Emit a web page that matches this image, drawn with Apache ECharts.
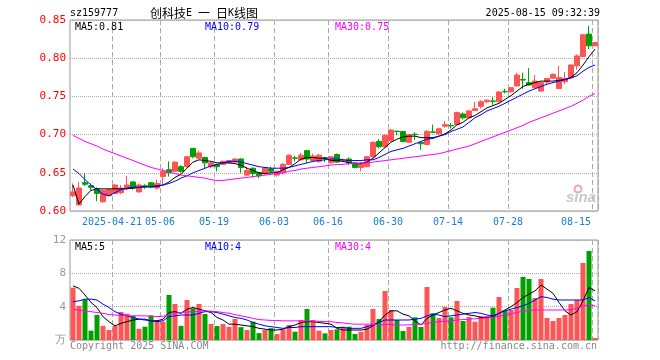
<!DOCTYPE html>
<html><head><meta charset="utf-8">
<script src="https://cdn.jsdelivr.net/npm/echarts@6/dist/echarts.min.js"></script>
<style>html,body{margin:0;padding:0;background:#fff}#c{width:660px;height:360px}</style>
</head><body><div id="c"></div>
<script>
const dates = ['2025-04-10','2025-04-11','2025-04-14','2025-04-15','2025-04-16','2025-04-17','2025-04-18','2025-04-21','2025-04-22','2025-04-23',
'2025-04-24','2025-04-25','2025-04-28','2025-04-29','2025-04-30','2025-05-06','2025-05-07','2025-05-08','2025-05-09','2025-05-12',
'2025-05-13','2025-05-14','2025-05-15','2025-05-16','2025-05-19','2025-05-20','2025-05-21','2025-05-22','2025-05-23','2025-05-26',
'2025-05-27','2025-05-28','2025-05-29','2025-05-30','2025-06-03','2025-06-04','2025-06-05','2025-06-06','2025-06-09','2025-06-10',
'2025-06-11','2025-06-12','2025-06-13','2025-06-16','2025-06-17','2025-06-18','2025-06-19','2025-06-20','2025-06-23','2025-06-24',
'2025-06-25','2025-06-26','2025-06-27','2025-06-30','2025-07-01','2025-07-02','2025-07-03','2025-07-04','2025-07-07','2025-07-08',
'2025-07-09','2025-07-10','2025-07-11','2025-07-14','2025-07-15','2025-07-16','2025-07-17','2025-07-18','2025-07-21','2025-07-22',
'2025-07-23','2025-07-24','2025-07-25','2025-07-28','2025-07-29','2025-07-30','2025-07-31','2025-08-01','2025-08-04','2025-08-05',
'2025-08-06','2025-08-07','2025-08-08','2025-08-11','2025-08-12','2025-08-13','2025-08-14','2025-08-15'];

const opens = [0.620,0.608,0.637,0.633,0.629,0.612,0.620,0.623,0.624,0.630,
0.638,0.625,0.633,0.637,0.630,0.645,0.654,0.652,0.658,0.658,
0.682,0.669,0.670,0.658,0.661,0.661,0.663,0.664,0.668,0.647,
0.656,0.650,0.649,0.655,0.647,0.650,0.661,0.6695,0.667,0.679,
0.666,0.665,0.670,0.663,0.674,0.666,0.668,0.663,0.657,0.658,
0.671,0.691,0.684,0.692,0.7045,0.704,0.690,0.7005,0.690,0.687,
0.7035,0.701,0.711,0.712,0.713,0.727,0.722,0.7316,0.737,0.743,
0.744,0.743,0.7565,0.756,0.7636,0.772,0.768,0.7614,0.757,0.7688,
0.7737,0.7605,0.7693,0.7746,0.790,0.8022,0.8316,0.8162];
const closes = [0.625,0.630,0.635,0.631,0.623,0.627,0.628,0.634,0.630,0.634,
0.630,0.634,0.631,0.631,0.636,0.652,0.650,0.664,0.652,0.671,
0.671,0.676,0.663,0.663,0.658,0.665,0.666,0.668,0.657,0.653,
0.649,0.646,0.656,0.652,0.652,0.661,0.673,0.669,0.673,0.668,
0.672,0.673,0.669,0.671,0.664,0.667,0.663,0.657,0.661,0.671,
0.690,0.684,0.699,0.706,0.704,0.691,0.700,0.700,0.688,0.704,
0.703,0.7075,0.713,0.7115,0.729,0.722,0.731,0.7338,0.743,0.745,
0.7435,0.7557,0.756,0.7614,0.778,0.7714,0.765,0.770,0.768,0.7733,
0.7789,0.7746,0.7737,0.7912,0.803,0.8307,0.8162,0.8206];
const lows = [0.618,0.607,0.633,0.627,0.613,0.611,0.619,0.622,0.622,0.627,
0.628,0.624,0.629,0.630,0.628,0.635,0.645,0.651,0.650,0.657,
0.669,0.668,0.655,0.656,0.652,0.660,0.662,0.663,0.650,0.646,
0.644,0.643,0.647,0.649,0.645,0.648,0.660,0.665,0.666,0.663,
0.664,0.663,0.664,0.662,0.663,0.664,0.660,0.656,0.652,0.657,
0.670,0.682,0.683,0.691,0.699,0.690,0.689,0.693,0.680,0.686,
0.702,0.700,0.709,0.708,0.712,0.720,0.721,0.731,0.734,0.741,
0.739,0.742,0.754,0.755,0.763,0.760,0.764,0.761,0.756,0.765,
0.773,0.760,0.766,0.774,0.785,0.802,0.8118,0.816];
const highs = [0.636,0.638,0.649,0.636,0.631,0.628,0.629,0.635,0.634,0.646,
0.639,0.636,0.635,0.638,0.641,0.656,0.665,0.665,0.660,0.672,
0.682,0.679,0.671,0.664,0.661,0.666,0.667,0.669,0.669,0.658,
0.657,0.651,0.657,0.658,0.653,0.663,0.674,0.672,0.676,0.680,
0.675,0.675,0.671,0.672,0.675,0.669,0.670,0.664,0.664,0.672,
0.691,0.694,0.700,0.707,0.705,0.705,0.701,0.703,0.691,0.706,
0.713,0.709,0.718,0.715,0.730,0.729,0.732,0.743,0.745,0.746,
0.749,0.757,0.760,0.762,0.781,0.781,0.787,0.778,0.769,0.774,
0.780,0.790,0.782,0.792,0.805,0.831,0.8425,0.821];

const ma5 = [0.634,0.609,0.619,0.627,0.629,0.629,0.629,0.629,0.629,0.629,
0.630,0.631,0.632,0.632,0.632,0.634,0.638,0.644,0.648,0.656,
0.664,0.667,0.666,0.665,0.663,0.663,0.663,0.662,0.660,0.656,
0.653,0.650,0.649,0.650,0.650,0.654,0.657,0.662,0.668,0.670,
0.670,0.669,0.669,0.666,0.666,0.665,0.663,0.662,0.662,0.664,
0.669,0.676,0.683,0.690,0.694,0.697,0.698,0.698,0.696,0.696,
0.696,0.698,0.701,0.706,0.713,0.716,0.722,0.725,0.730,0.735,
0.738,0.741,0.746,0.751,0.757,0.763,0.766,0.768,0.770,0.770,
0.770,0.771,0.772,0.775,0.781,0.791,0.802,0.812];
const ma10 = [0.655,0.649,0.641,0.634,0.628,0.622,0.620,0.624,0.628,0.630,
0.631,0.631,0.632,0.632,0.633,0.634,0.636,0.639,0.643,0.646,
0.650,0.653,0.656,0.659,0.661,0.663,0.665,0.665,0.664,0.662,
0.660,0.658,0.657,0.656,0.656,0.656,0.657,0.659,0.661,0.663,
0.665,0.666,0.667,0.668,0.668,0.667,0.666,0.666,0.666,0.667,
0.667,0.670,0.674,0.678,0.680,0.682,0.685,0.688,0.691,0.694,
0.695,0.698,0.700,0.704,0.707,0.710,0.716,0.722,0.726,0.731,
0.734,0.737,0.741,0.745,0.749,0.753,0.757,0.760,0.763,0.766,
0.768,0.770,0.772,0.774,0.777,0.783,0.788,0.791];
const ma30 = [0.699,0.695,0.691,0.688,0.685,0.681,0.678,0.675,0.672,0.669,
0.666,0.663,0.660,0.657,0.655,0.653,0.651,0.649,0.647,0.646,
0.645,0.644,0.643,0.641,0.640,0.640,0.641,0.642,0.643,0.644,
0.645,0.646,0.647,0.648,0.649,0.650,0.652,0.653,0.655,0.656,
0.657,0.658,0.659,0.660,0.661,0.661,0.662,0.662,0.663,0.663,
0.664,0.665,0.666,0.667,0.668,0.669,0.670,0.671,0.672,0.673,
0.674,0.675,0.677,0.679,0.681,0.683,0.685,0.688,0.691,0.694,
0.697,0.700,0.703,0.706,0.709,0.712,0.716,0.719,0.722,0.725,
0.728,0.731,0.734,0.737,0.741,0.745,0.750,0.754];

const volumes = [6.28,4.1,4.88,1.12,3.02,1.7,1.2,1.7,3.36,3.16,
2.9,1.34,1.6,2.96,2.4,2.2,5.4,4.32,1.7,4.8,
3.8,4.32,3.12,1.92,1.68,1.92,1.58,2.52,1.54,1.2,
2.2,0.82,1.2,1.42,0.72,1.26,1.8,1.0,2.4,3.72,
2.4,1.12,0.8,1.2,1.28,1.6,1.6,0.72,1.0,1.8,
3.72,2.52,5.88,3.6,2.4,1.08,1.56,2.72,1.56,6.36,
3.2,2.64,3.96,2.72,4.68,2.28,2.76,2.2,2.88,2.88,
3.88,5.16,3.56,3.6,6.24,7.56,7.32,5.04,7.32,2.64,
2.28,2.64,3.0,4.32,4.8,9.24,10.68,0.24];
const volMa5 = [6.5,6.2,5.4,4.5,3.9,2.8,2.2,1.7,2.0,2.2,
2.4,2.5,2.5,2.3,2.3,2.5,3.3,3.4,3.2,3.7,
3.9,3.7,3.5,3.3,2.7,2.4,1.9,1.9,1.8,1.7,
1.6,1.4,1.3,1.2,1.2,1.3,1.6,1.8,2.1,2.2,
2.2,2.1,2.0,1.9,1.4,1.2,1.2,1.2,1.2,1.3,
1.7,2.2,3.0,3.5,3.5,3.1,2.9,2.3,1.8,2.6,
3.0,3.3,3.6,3.8,3.5,3.2,3.0,2.9,2.7,2.7,
2.8,3.2,3.6,4.0,4.5,5.1,5.5,5.9,6.6,6.1,
5.6,4.5,3.5,3.0,3.4,4.7,6.3,5.9];
const volMa10 = [4.6,4.7,4.9,4.9,4.8,4.3,3.9,3.4,3.1,2.9,
2.7,2.5,2.4,2.3,2.2,2.3,2.8,2.9,3.0,3.0,
3.0,3.2,3.4,3.4,3.3,3.1,2.9,2.7,2.6,2.4,
2.1,1.9,1.7,1.6,1.5,1.4,1.5,1.5,1.6,1.6,
1.6,1.6,1.6,1.6,1.5,1.5,1.4,1.4,1.4,1.6,
1.8,2.1,2.4,2.4,2.4,2.4,2.4,2.5,2.6,2.9,
3.1,3.0,2.8,2.9,3.0,3.1,3.2,3.3,3.2,3.0,
2.9,3.2,3.5,3.7,3.9,4.1,4.4,4.8,5.2,5.1,
4.9,4.8,4.8,4.8,4.8,4.8,5.1,4.7];
const volMa30 = [3.7,3.6,3.5,3.4,3.3,3.2,3.05,3.0,2.95,2.9,
2.9,2.9,2.9,2.85,2.8,2.85,3.0,3.2,3.3,3.35,
3.4,3.45,3.5,3.45,3.4,3.3,3.2,3.05,2.9,2.75,
2.6,2.45,2.4,2.35,2.35,2.3,2.3,2.3,2.3,2.3,
2.25,2.25,2.2,2.2,2.1,2.05,1.95,1.9,1.9,1.9,
1.9,1.85,1.85,1.85,1.8,1.8,1.82,1.85,1.9,2.0,
2.1,2.2,2.25,2.3,2.4,2.45,2.5,2.55,2.6,2.65,
2.7,2.85,3.0,3.15,3.3,3.45,3.55,3.6,3.6,3.6,
3.6,3.6,3.6,3.65,3.8,4.1,4.2,4.1];

const labelDates = ['2025-04-21','2025-05-06','2025-05-19','2025-06-03','2025-06-16','2025-06-30','2025-07-14','2025-07-28','2025-08-15'];
const priceTicks = {min: 0.60, max: 0.85, step: 0.05};
const volTicks = {min: 0, max: 12, step: 4};

const RED = '#ff5454', GREEN = '#00a000';
const MONO = '"DejaVu Sans Mono", monospace';
const CJK = '"Noto Sans CJK SC", sans-serif';
const labelSet = new Set(labelDates.map(d => dates.indexOf(d)));
const isLabel = (i) => labelSet.has(i);

const candles = dates.map((d, i) => [opens[i], closes[i], lows[i], highs[i]]);
const volData = dates.map((d, i) => ({value: volumes[i], itemStyle: {color: closes[i] >= opens[i] ? RED : GREEN}}));

const chart = echarts.init(document.getElementById('c'), null, {renderer: 'canvas'});
const splitX = {show: true, interval: (i) => isLabel(i), lineStyle: {color: '#aaaaaa', type: [5, 3], width: 1}};
const line = (name, data, color, xi) => ({
  name, type: 'line', data, xAxisIndex: xi, yAxisIndex: xi, symbol: 'none', showSymbol: false,
  lineStyle: {color, width: 1}, silent: true, z: 3
});
const lastIdx = dates.length - 1;

chart.setOption({
  animation: false,
  backgroundColor: '#fff',
  grid: [
    {left: 70, top: 20, width: 528, height: 191, show: true, borderColor: '#999', borderWidth: 1, backgroundColor: 'transparent'},
    {left: 70, top: 240, width: 528, height: 100, show: true, borderColor: '#999', borderWidth: 1, backgroundColor: 'transparent'}
  ],
  xAxis: [
    {type: 'category', gridIndex: 0, data: dates, boundaryGap: true,
     axisLine: {show: false}, axisTick: {show: false},
     axisLabel: {interval: (i) => isLabel(i), color: '#1c7cd6', fontFamily: MONO, fontSize: 10, margin: 6,
       padding: [0, 6, 0, 0],
       formatter: (v, i) => {
         const idx = dates.indexOf(v);
         if (idx === 7) return v;
         if (idx === lastIdx) return '{last|' + v.slice(5) + '}';
         return v.slice(5);
       },
       rich: {last: {padding: [0, 32, 0, 0], color: '#1c7cd6', fontFamily: MONO, fontSize: 10}}},
     splitLine: splitX},
    {type: 'category', gridIndex: 1, data: dates, boundaryGap: true,
     axisLine: {show: false}, axisTick: {show: false}, axisLabel: {show: false},
     splitLine: splitX}
  ],
  yAxis: [
    {type: 'value', gridIndex: 0, min: priceTicks.min, max: priceTicks.max, interval: priceTicks.step,
     axisLine: {show: false}, axisTick: {show: false},
     axisLabel: {color: '#ff0000', fontFamily: MONO, fontSize: 11, margin: 4, formatter: (v) => v.toFixed(2)},
     splitLine: {show: true, lineStyle: {color: '#aaaaaa', type: 'dotted', width: 1}}},
    {type: 'value', gridIndex: 1, min: volTicks.min, max: volTicks.max, interval: volTicks.step,
     axisLine: {show: false}, axisTick: {show: false},
     axisLabel: {color: '#999999', fontFamily: MONO, fontSize: 11, margin: 4,
       formatter: (v) => v === 0 ? '万' : String(v)},
     splitLine: {show: true, lineStyle: {color: '#aaaaaa', type: 'dotted', width: 1}}}
  ],
  series: [
    {type: 'candlestick', name: 'K', data: candles, xAxisIndex: 0, yAxisIndex: 0, barWidth: 5,
     itemStyle: {color: RED, color0: GREEN, borderColor: RED, borderColor0: GREEN, borderWidth: 1}, z: 2},
    line('MA5', ma5, '#000000', 0),
    line('MA10', ma10, '#0000ff', 0),
    line('MA30', ma30, '#ff00ff', 0),
    {type: 'bar', name: 'VOL', data: volData, xAxisIndex: 1, yAxisIndex: 1, barWidth: 5, z: 2},
    line('VMA5', volMa5, '#000000', 1),
    line('VMA10', volMa10, '#0000ff', 1),
    line('VMA30', volMa30, '#ff00ff', 1)
  ],
  graphic: [
    {type: 'text', x: 70, y: 13, style: {text: 'sz159777', font: '10px ' + MONO, fill: '#000', verticalAlign: 'middle'}},
    {type: 'text', x: 150, y: 13, style: {
      text: '{c|创科技}{a|E }{c|一}{a| }{c|日}{a|K}{c|线图}',
      fill: '#000', verticalAlign: 'middle',
      rich: {c: {font: '12px ' + CJK, fill: '#000'}, a: {font: '10px ' + MONO, fill: '#000'}}}},
    {type: 'text', x: 600, y: 13, style: {text: '2025-08-15 09:32:39', font: '10px ' + MONO, fill: '#000', align: 'right', verticalAlign: 'middle'}},
    {type: 'text', x: 75, y: 27, z: 10, style: {text: 'MA5:' + ma5[lastIdx].toFixed(2), font: '10px ' + MONO, fill: '#000', verticalAlign: 'middle'}},
    {type: 'text', x: 205, y: 27, z: 10, style: {text: 'MA10:' + ma10[lastIdx].toFixed(2), font: '10px ' + MONO, fill: '#0000ff', verticalAlign: 'middle'}},
    {type: 'text', x: 335, y: 27, z: 10, style: {text: 'MA30:' + ma30[lastIdx].toFixed(2), font: '10px ' + MONO, fill: '#ff00ff', verticalAlign: 'middle'}},
    {type: 'text', x: 75, y: 247, z: 10, style: {text: 'MA5:' + Math.floor(volMa5[lastIdx]), font: '10px ' + MONO, fill: '#000', verticalAlign: 'middle'}},
    {type: 'text', x: 205, y: 247, z: 10, style: {text: 'MA10:' + Math.floor(volMa10[lastIdx]), font: '10px ' + MONO, fill: '#0000ff', verticalAlign: 'middle'}},
    {type: 'text', x: 335, y: 247, z: 10, style: {text: 'MA30:' + Math.floor(volMa30[lastIdx]), font: '10px ' + MONO, fill: '#ff00ff', verticalAlign: 'middle'}},
    {type: 'text', x: 70, y: 346, style: {text: 'Copyright 2025 SINA.COM', font: '10px ' + MONO, fill: '#888', verticalAlign: 'middle'}},
    {type: 'text', x: 597, y: 346, style: {text: 'http://finance.sina.com.cn', font: '10px ' + MONO, fill: '#888', align: 'right', verticalAlign: 'middle'}},
    {type: 'circle', shape: {cx: 578, cy: 189, r: 3.5}, style: {fill: 'none', stroke: '#f2a6a6', lineWidth: 2}, z: 1},
    {type: 'text', x: 581, y: 198, z: 1, style: {text: 'sina', font: 'italic bold 15px "Liberation Sans"', fill: '#c9c9c9', align: 'center', verticalAlign: 'middle'}}
  ]
});
</script></body></html>
